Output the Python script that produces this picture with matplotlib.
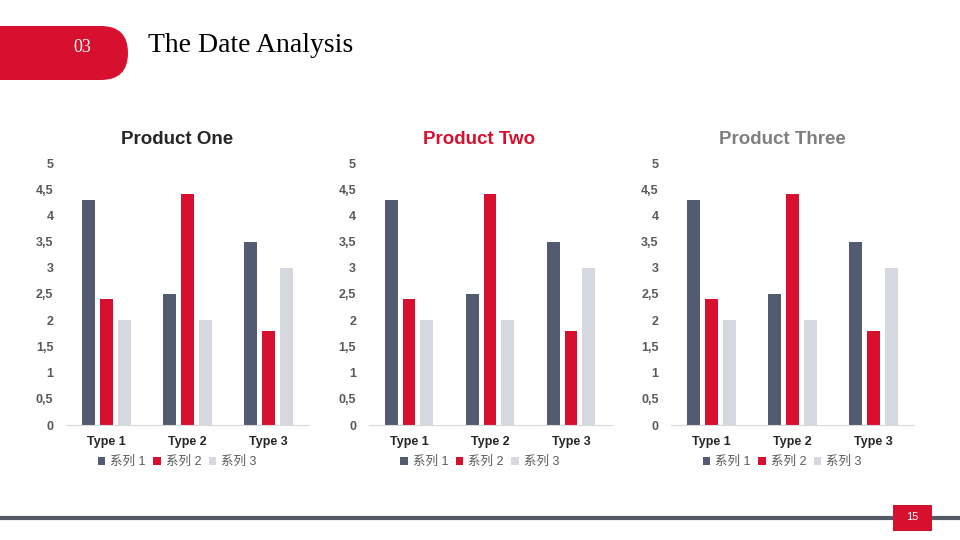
import numpy as np
import matplotlib.pyplot as plt
from matplotlib.patches import FancyBboxPatch, Rectangle
from matplotlib.lines import Line2D
from matplotlib.transforms import IdentityTransform

plt.rcParams['font.family'] = ['Liberation Sans', 'Noto Sans CJK SC', 'DejaVu Sans']

# datos
categorias = ['Type 1', 'Type 2', 'Type 3']
serie1 = [4.3, 2.5, 3.5]
serie2 = [2.4, 4.4, 1.8]
serie3 = [2.0, 2.0, 3.0]
series_nombres = ['系列 1', '系列 2', '系列 3']
productos = ['Product One', 'Product Two', 'Product Three']
color_titulos = ['#262626', '#D7102F', '#7F7F7F']
yticks = [0, 0.5, 1, 1.5, 2, 2.5, 3, 3.5, 4, 4.5, 5]
ytick_labels = ['0', '0,5', '1', '1,5', '2', '2,5', '3', '3,5', '4', '4,5', '5']

colores = ['#525B6F', '#D7102F', '#D5D8DF']
W, H = 960, 540

fig = plt.figure(figsize=(9.6, 5.4), dpi=100)

# encabezado (coordenadas en pixeles)
fig.patches.append(FancyBboxPatch((-60, 460), 188, 54, boxstyle='round,pad=0,rounding_size=27',
                                  transform=IdentityTransform(), facecolor='#D7102F',
                                  edgecolor='none'))
fig.text(82 / W, 1 - 47 / H, '03', color='white', fontsize=13, family='Liberation Serif',
         ha='center', va='center')
fig.text(148 / W, 1 - 46 / H, 'The Date Analysis', color='black', fontsize=20,
         family='Liberation Serif', ha='left', va='center')

# linea inferior
fig.add_artist(Line2D([0, 1], [1 - 518 / H, 1 - 518 / H], transform=fig.transFigure,
                      color='#555B66', lw=3))
fig.patches.append(Rectangle((893 / W, 1 - 531 / H), 39 / W, 26 / H, transform=fig.transFigure,
                             facecolor='#D7102F', edgecolor='none', zorder=3))
fig.text(912.5 / W, 1 - 517 / H, '15', color='white', fontsize=8, ha='center', va='center', zorder=4)

x = np.arange(len(categorias))
ancho = 0.16
desp = 0.22

for i, prod in enumerate(productos):
    left = 66 + i * 302.5
    ax = fig.add_axes([left / W, (540 - 425) / H, 243 / W, 262 / H])
    for j, (vals, c) in enumerate(zip([serie1, serie2, serie3], colores)):
        ax.bar(x + (j - 1) * desp, vals, width=ancho, color=c, label=series_nombres[j], zorder=2)
    ax.set_xlim(-0.5, 2.5)
    ax.set_ylim(0, 5)
    ax.set_yticks(yticks)
    ax.set_yticklabels(ytick_labels)
    ax.set_xticks(x)
    ax.set_xticklabels(categorias)
    for s in ['top', 'right', 'left']:
        ax.spines[s].set_visible(False)
    ax.spines['bottom'].set_color('#D9D9D9')
    ax.tick_params(axis='both', length=0)
    ax.tick_params(axis='y', pad=9, labelsize=9, labelcolor='#595959')
    ax.tick_params(axis='x', pad=8, labelsize=9, labelcolor='#262626')
    for t in ax.get_yticklabels() + ax.get_xticklabels():
        t.set_fontweight('bold')
    cx = (left + 111) / W
    fig.text(cx, 1 - 139 / H, prod, color=color_titulos[i], fontsize=13.5, fontweight='bold',
             ha='center', va='center')
    leg = ax.legend(loc='center', bbox_to_anchor=(cx, 1 - 462 / H), bbox_transform=fig.transFigure,
                    ncol=3, frameon=False, fontsize=9, handlelength=0.6, handleheight=0.6,
                    handletextpad=0.4, columnspacing=0.6)
    for t in leg.get_texts():
        t.set_color('#595959')

fig.savefig('out.png', dpi=100)
